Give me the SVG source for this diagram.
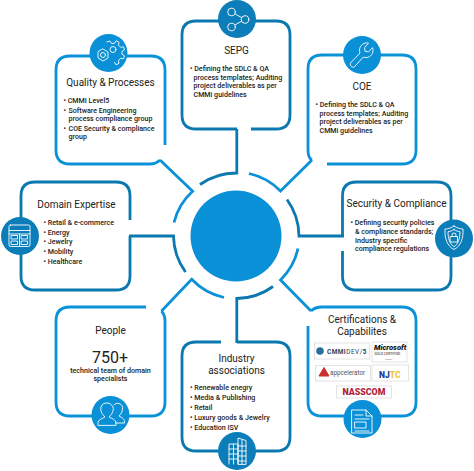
<svg xmlns="http://www.w3.org/2000/svg" width="474" height="471" viewBox="0 0 474 471">
<style>
text{font-family:Roboto,"Liberation Sans",sans-serif;fill:#222}
.t{font-size:10px;text-anchor:middle}
.b{font-size:7.1px;font-weight:500}
.l{fill:none;stroke-width:2.8}
.d{stroke:#0b78b0}.c{stroke:#0a92d8}
.df{fill:#0b7db8}.cf{fill:#0a90d6}
.i{fill:none;stroke:#fff;stroke-width:.9;stroke-linejoin:round;stroke-linecap:round}
.logo{fill:#fff;stroke:#ddd;stroke-width:.8}
</style>
<circle id="hub" cx="236" cy="236" r="45.5" fill="#0a90d6"/>
<g id="connectors">
<path class="l d" d="M200 184.500A63 63 0 0 1 236.800 173V129"/>
<path class="l c" d="M249 173.500A63 63 0 0 1 280.500 191L312 160"/>
<path class="l d" d="M287 199.500A63 63 0 0 1 299 236H344"/>
<path class="l c" d="M298 248.500A63 63 0 0 1 280.500 280L311 311"/>
<path class="l d" d="M273 286.500A63 63 0 0 1 236.800 298.500V343"/>
<path class="l c" d="M224 297.500A63 63 0 0 1 191.700 279.300L161.500 311"/>
<path class="l d" d="M185.500 272A63 63 0 0 1 173.500 236H129"/>
<path class="l c" d="M174 222.500A63 63 0 0 1 192.600 191.300L160 160"/>
</g>
<g id="sepg">
<path class="l d" d="M237 129H196Q182 129 182 115V35Q182 21 196 21H276Q290 21 290 35V115Q290 129 276 129H251"/>
<circle class="df" cx="237" cy="19" r="19"/>
<g class="i"><circle cx="231.500" cy="12" r="3.800"/><circle cx="231.500" cy="27" r="3.800"/><circle cx="245" cy="19.500" r="3.800"/><path d="M235 14l6.500 3.500M235 25l6.500-3.800"/></g>
<text class="t" x="236.500" y="54">SEPG</text>
<text class="b"><tspan x="190" y="71">• Defining the SDLC &amp; QA</tspan><tspan x="193.500" y="79.500">process templates; Auditing</tspan><tspan x="193.500" y="88">project deliverables as per</tspan><tspan x="193.500" y="96.500">CMMi guidelines</tspan></text>
</g>
<g id="coe">
<path class="l c" d="M308 150V69Q308 55 322 55H402Q416 55 416 69V150Q416 164 402 164H327"/>
<path class="l c" d="M308 150Q308 158 312 160"/>
<circle class="cf" cx="362" cy="55" r="19"/>
<path class="i" d="M351 62.500l9-9.500c-1.500-4 .5-8 4-9.500 1.500-.7 3.500-.8 4.500-.3l-4 4.500.5 3.500 3.500.7 4-4.300c.8 1.800.7 4-.2 6-1.800 3.300-5.500 4.800-9 3.500l-9 9.800c-1.800 1.300-5 -1.300-3.800-3.900z"/>
<text class="t" x="362" y="90">COE</text>
<text class="b"><tspan x="315.500" y="107">• Defining the SDLC &amp; QA</tspan><tspan x="319.500" y="115.500">process templates; Auditing</tspan><tspan x="319.500" y="124">project deliverables as per</tspan><tspan x="319.500" y="132.500">CMMi guidelines</tspan></text>
</g>
<g id="security">
<path class="l d" d="M342.500 236V196Q342.500 182 356.500 182H437Q451 182 451 196V276Q451 290 437 290H356.500Q342.500 290 342.500 276V251"/>
<circle class="df" cx="454" cy="238.500" r="19"/>
<g class="i"><path d="M454 226c3 2 6 3 9 3 .5 9-2 17-9 20.500-7-3.500-9.500-11.500-9-20.500 3 0 6-1 9-3z"/><path d="M454 229.500c2 1.300 4 2 6 2.200 0 6.500-1.800 12.500-6 15-4.200-2.500-6-8.500-6-15 2-.2 4-.9 6-2.200z"/><rect x="450.500" y="236.500" width="7" height="5.500"/><path d="M452 236.500v-1.500a2 2 0 0 1 4 0v1.500"/></g>
<text class="t" x="396.500" y="207">Security &amp; Compliance</text>
<text class="b"><tspan x="350.500" y="225">• Defining security policies</tspan><tspan x="355" y="234">&amp; compliance standards;</tspan><tspan x="355" y="242.500">Industry specific</tspan><tspan x="355" y="250.500">compliance regulations</tspan></text>
</g>
<g id="certifications">
<path class="l c" d="M308 326V402Q308 416 322 416H402Q416 416 416 402V321Q416 307 402 307H322Q315 307 311 311"/>
<circle class="cf" cx="362.500" cy="419" r="19"/>
<g class="i"><path d="M352 410h14l6 6v17h-20z"/><path d="M366 410v6h6M355 415h8M355 419h14M355 431h14"/><rect x="355" y="422" width="11" height="6"/></g>
<text class="t" x="362" y="323">Certifications &amp;</text>
<text class="t" x="362" y="335">Capabilites</text>
<rect class="logo" x="314.500" y="343" width="55" height="16"/>
<circle cx="320" cy="351" r="3.800" fill="#2b6f9e"/>
<text x="327" y="353.500" font-size="6.400" font-weight="700" letter-spacing=".5" style="fill:#2c3e50">CMMI<tspan font-weight="400">DEV/</tspan>5</text>
<rect class="logo" x="372" y="342" width="35" height="20"/>
<text x="374" y="350" font-size="7.600" font-weight="900" font-style="italic" style="fill:#111">Microsoft</text>
<text x="374.500" y="355" font-size="3.400" font-weight="700" style="fill:#777">GOLD CERTIFIED</text>
<text x="385" y="359.500" font-size="2.200" style="fill:#777">Partner</text>
<rect class="logo" x="315.500" y="365.500" width="55" height="15.500"/>
<path d="M319 376l5-8.500 5 8.500z" fill="#c9302c" stroke="#c9302c"/>
<text x="330" y="374.500" font-size="6.300" style="fill:#555">appcelerator</text>
<rect class="logo" x="372" y="365" width="36.500" height="16"/>
<text x="379" y="377.500" font-size="8.500" font-weight="900" style="fill:#1c3f94">NJ<tspan style="fill:#e8c93a">TC</tspan></text>
<rect class="logo" x="336.500" y="386" width="55" height="12"/>
<text x="364" y="395" font-size="8.800" font-weight="900" text-anchor="middle" style="fill:#b01e3c">NASSCOM</text>
</g>
<g id="industry">
<path class="l d" d="M237 342H276Q290 342 290 356V437Q290 451 276 451H196Q182 451 182 437V356Q182 342 196 342H221"/>
<circle class="df" cx="237" cy="451" r="19"/>
<g class="i"><path d="M229 464v-20h9v20M238 464v-26l8 2.500v23.500z"/><path d="M229 449h9M229 454h9M229 459h9M238 446h8M238 451h8M238 456h8M238 461h8M233.500 444v20M242 440v24"/></g>
<text class="t" x="236.500" y="362">Industry</text>
<text class="t" x="236.500" y="374">associations</text>
<text class="b"><tspan x="190" y="390">• Renewable enegry</tspan><tspan x="190" y="400">• Media &amp; Publishing</tspan><tspan x="190" y="409.500">• Retail</tspan><tspan x="190" y="420">• Luxury goods &amp; Jewelry</tspan><tspan x="190" y="429.500">• Education ISV</tspan></text>
</g>
<g id="people">
<path class="l c" d="M146 307H70Q56 307 56 321V402Q56 416 70 416H151Q165 416 165 402V321Q165 315 161.500 311"/>
<circle class="cf" cx="110.500" cy="415" r="19"/>
<g class="i"><path d="M98 425c-1-5 3-6 7-8-3-3-5-6-4-10 1-3 3-4 6-4s5 2 6 4c1 4-1 7-4 10 4 2 8 3 7 8z"/><path d="M114 405c1-1.500 3-2 5-1.500 3 1 4 3 3.500 6-.3 3-2 5-3.500 6.500 3 1.500 6 3 5.500 7h-9"/></g>
<text class="t" x="110.500" y="334">People</text>
<text x="110" y="363" font-size="16" text-anchor="middle">750+</text>
<text class="b" text-anchor="middle"><tspan x="110.500" y="373">technical team of domain</tspan><tspan x="110.500" y="381">specialists</tspan></text>
</g>
<g id="domain">
<path class="l d" d="M130 236V276Q130 290 116 290H35Q21 290 21 276V196Q21 182 35 182H116Q130 182 130 196V220"/>
<circle class="df" cx="20" cy="236" r="19"/>
<g class="i"><rect x="9" y="225" width="21" height="21.500" rx="1.500"/><path d="M9 230.500h21M19.500 234v12M9 234h21"/><rect x="11.500" y="235.500" width="6" height="3.500"/><rect x="21.500" y="235.500" width="6" height="3.500"/><rect x="11.500" y="241" width="6" height="3.500"/><rect x="21.500" y="241" width="6" height="3.500"/></g>
<text class="t" x="76.500" y="208">Domain Expertise</text>
<text class="b"><tspan x="43.500" y="225">• Retail &amp; e-commerce</tspan><tspan x="43.500" y="234.500">• Energy</tspan><tspan x="43.500" y="244">• Jewelry</tspan><tspan x="43.500" y="254">• Mobility</tspan><tspan x="43.500" y="263.500">• Healthcare</tspan></text>
</g>
<g id="quality">
<path class="l c" d="M165 145V70Q165 56 151 56H70Q56 56 56 70V150Q56 164 70 164H150Q156 164 160 160"/>
<circle class="cf" cx="108.500" cy="53" r="19"/>
<g class="i"><path d="M107 42l3-1 1.500 2.500 3-.2 1.500-2.500 3 1.500-.5 3 2 2 3-.5 1 3-2.500 1.500v3l2.500 1.500-1 3-3-.5-2 2 .5 3-3 1.500-1.500-2.500"/><path d="M103 49l5 3v6l-5 3-5-3v-6z"/><circle cx="103" cy="55" r="2.500"/><circle cx="113" cy="49.500" r="3"/></g>
<text class="t" x="110.500" y="85.500">Quality &amp; Processes</text>
<text class="b"><tspan x="63.500" y="102.500">• CMMI Level5</tspan><tspan x="68.500" y="113">Software Engineering</tspan><tspan x="68.500" y="121">process compliance group</tspan><tspan x="68.500" y="130.500">COE Security &amp; compliance</tspan><tspan x="68.500" y="139">group</tspan></text>
<text class="b"><tspan x="63.500" y="113">•</tspan><tspan x="63.500" y="130.500">•</tspan></text>
</g>
</svg>
